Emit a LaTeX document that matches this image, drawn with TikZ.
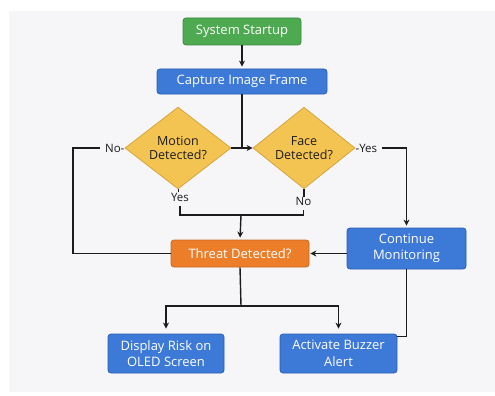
\documentclass[tikz,border=0pt]{standalone}
\usepackage{fontspec}
\setmainfont{Open Sans}
\usetikzlibrary{shapes.geometric,arrows.meta}
\definecolor{panel}{HTML}{F6F6F9}
\definecolor{gfill}{HTML}{4DAA50}
\definecolor{gdraw}{HTML}{3A8A3E}
\definecolor{bfill}{HTML}{3D79D6}
\definecolor{bdraw}{HTML}{2B5FB3}
\definecolor{ofill}{HTML}{EC7E2A}
\definecolor{odraw}{HTML}{C9661C}
\definecolor{yfill}{HTML}{F4C452}
\definecolor{ydraw}{HTML}{D6A43C}
\definecolor{ink}{HTML}{1C1C1C}
\tikzset{
  box/.style={rectangle, rounded corners=3pt, line width=0.8pt, text=white, align=center,
    font=\fontsize{13}{16.5}\selectfont, inner sep=0pt},
  gbox/.style={box, fill=gfill, draw=gdraw},
  bbox/.style={box, fill=bfill, draw=bdraw},
  obox/.style={box, fill=ofill, draw=odraw},
  decide/.style={diamond, fill=yfill, draw=ydraw, line width=0.8pt, text=ink, align=center,
    inner sep=0pt, font=\fontsize{12.5}{14.5}\selectfont},
  lbl/.style={text=ink, font=\fontsize{11.5}{13}\selectfont, inner sep=0pt},
  conn/.style={draw=ink, line width=1.4pt},
  arr/.style={conn, -{Stealth[length=6pt,width=6pt]}}
}
\begin{document}
\begin{tikzpicture}[x=1pt,y=-1pt]
\useasboundingbox (0,0) rectangle (495,396);
\fill[panel] (9,11) rectangle (495,392);

\node[gbox, minimum width=118pt, minimum height=27pt] (start) at (242,31.5) {System Startup};
\node[bbox, minimum width=170pt, minimum height=25pt] (capture) at (242,81.5) {Capture Image Frame};
\node[decide, minimum width=106pt, minimum height=70pt] (motion) at (178,148) {Motion\\Detected?};
\node[decide, minimum width=102pt, minimum height=70pt] (face) at (304,148) {Face\\Detected?};
\node[obox, minimum width=138pt, minimum height=27pt] (threat) at (240,253.5) {Threat Detected?};
\node[bbox, minimum width=119pt, minimum height=41pt] (cont) at (406.5,248.5) {Continue\\Monitoring};
\node[bbox, minimum width=116pt, minimum height=39pt] (display) at (166,353.5) {Display Risk on\\OLED Screen};
\node[bbox, minimum width=117pt, minimum height=39pt] (buzzer) at (338.5,353.5) {Activate Buzzer\\Alert};

\node[lbl, anchor=east] (mno) at (motion.west) {No-};
\node[lbl, anchor=west] (fyes) at (face.east) {-Yes};
\node[lbl] (myes) at (180,197.5) {Yes};
\node[lbl] (fno) at (303.5,201) {No};
\coordinate (jn) at (241,215);
\coordinate (split) at (241,306);

\draw[arr, shorten >=2pt] (start.south) -- (capture.north);
\draw[conn] (capture.south) -- (capture.south |- face.west);
\draw[arr] (motion.east) -- (face.west);
\draw[conn] ([xshift=-5pt]mno.west) -- ++(-27,0) |- (threat.west);
\draw[arr, shorten >=2pt] ([xshift=5pt]fyes.east) -| (cont.north);
\draw[conn, line width=1pt] (motion.south) -- ++(0,3);
\draw[conn] (face.south) -- ++(0,8);
\draw[conn] ([yshift=-4pt]myes.south) |- (jn) -| ([yshift=-5pt]fno.south);
\draw[arr, shorten >=2pt] (jn) -- (threat.north);
\draw[arr, shorten >=1pt] (threat.east -| cont.west) -- (threat.east);
\draw[conn] (threat.south) -- (split);
\draw[arr, shorten >=5pt] (split) -| (display.north);
\draw[arr, shorten >=5pt] (split) -| (buzzer.north);
\draw[conn] (cont.south) |- ([yshift=-3pt]buzzer.north east);
\end{tikzpicture}
\end{document}
